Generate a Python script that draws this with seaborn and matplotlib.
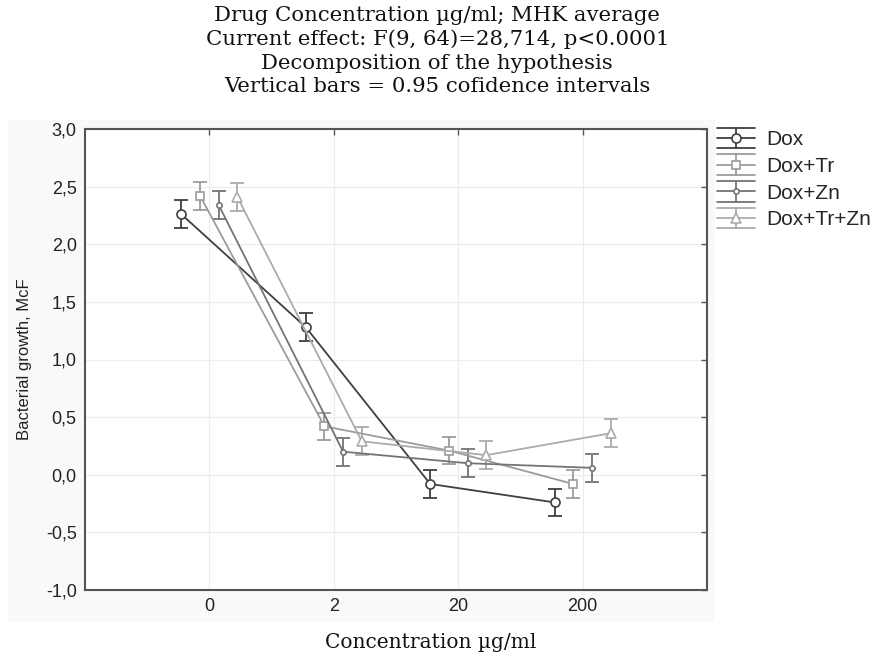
import numpy as np
import pandas as pd
import seaborn as sns
import matplotlib.pyplot as plt
from matplotlib.patches import Rectangle
from matplotlib.lines import Line2D
from matplotlib.legend_handler import HandlerBase

# data
concentrations = ['0', '2', '20', '200']
groups = ['Dox', 'Dox+Tr', 'Dox+Zn', 'Dox+Tr+Zn']
dox = [2.26, 1.28, -0.08, -0.24]
dox_tr = [2.42, 0.42, 0.21, -0.08]
dox_zn = [2.34, 0.20, 0.10, 0.06]
dox_tr_zn = [2.41, 0.29, 0.17, 0.36]
dox_ci = [0.12, 0.12, 0.12, 0.12]
dox_tr_ci = [0.12, 0.12, 0.12, 0.12]
dox_zn_ci = [0.12, 0.12, 0.12, 0.12]
dox_tr_zn_ci = [0.12, 0.12, 0.12, 0.12]
yticks = [-1.0, -0.5, 0.0, 0.5, 1.0, 1.5, 2.0, 2.5, 3.0]
ytick_labels = ['-1,0', '-0,5', '0,0', '0,5', '1,0', '1,5', '2,0', '2,5', '3,0']

title = ('Drug Concentration \u00b5g/ml; MHK average\n'
         'Current effect: F(9, 64)=28,714, p<0.0001\n'
         'Decomposition of the hypothesis\n'
         'Vertical bars = 0.95 cofidence intervals')


class StatisticaHandler(HandlerBase):
    # legend key: line with marker between two long caps, like the original software
    def create_artists(self, legend, orig_handle, xdescent, ydescent, width, height,
                       fontsize, trans):
        col = orig_handle.get_color()
        x0, x1 = -xdescent, width - xdescent
        xm = (x0 + x1) / 2
        y = height / 2 - ydescent
        d = height * 0.7
        arts = [
            Line2D([x0, x1], [y + d, y + d], color=col, lw=1.3),
            Line2D([x0, x1], [y - d, y - d], color=col, lw=1.3),
            Line2D([xm, xm], [y - d, y + d], color=col, lw=1.3),
            Line2D([x0, x1], [y, y], color=col, lw=1.3),
            Line2D([xm], [y], color=col, marker=orig_handle.get_marker(),
                   markersize=orig_handle.get_markersize(), markerfacecolor='white',
                   markeredgecolor=col, markeredgewidth=1.2),
        ]
        for a in arts:
            a.set_transform(trans)
        return arts


sns.set_style('white')
plt.rcParams['font.family'] = ['Liberation Sans', 'DejaVu Sans']

colors = ['#3f3f3f', '#9c9c9c', '#747474', '#ababab']
markers = ['o', 's', 'o', '^']
msizes = [6.5, 6.0, 3.8, 6.5]
offsets = [-0.225, -0.075, 0.075, 0.225]

fig = plt.figure(figsize=(8.8, 6.53), dpi=100)
fig.patches.append(Rectangle((8 / 880, 1 - 622 / 653), (715 - 8) / 880, (622 - 120) / 653,
                             transform=fig.transFigure, facecolor='#f9f9f9',
                             edgecolor='none', zorder=-1))
ax = fig.add_axes([85 / 880, 1 - 590 / 653, (707 - 85) / 880, (590 - 129) / 653])

series = [dox, dox_tr, dox_zn, dox_tr_zn]
cis = [dox_ci, dox_tr_ci, dox_zn_ci, dox_tr_zn_ci]
handles = []
for g, vals, ci, col, mk, ms, off in zip(groups, series, cis, colors, markers, msizes, offsets):
    df = pd.DataFrame({'pos': np.arange(len(concentrations)) + off, 'value': vals})
    sns.lineplot(data=df, x='pos', y='value', color=col, marker=mk, markersize=ms,
                 markerfacecolor='white', markeredgecolor=col, markeredgewidth=1.2,
                 linewidth=1.3, ax=ax, zorder=3)
    handles.append(ax.lines[-1])
    ax.errorbar(df['pos'], df['value'], yerr=ci, fmt='none', ecolor=col,
                elinewidth=1.3, capsize=4.7, capthick=1.3, zorder=2)

ax.set_xlim(-1, 4)
ax.set_ylim(-1, 3)
ax.set_xticks(range(len(concentrations)), concentrations)
ax.set_yticks(yticks, ytick_labels)
ax.grid(True, color='#ececec', linewidth=0.8)
ax.set_axisbelow(True)
ax.tick_params(direction='in', top=True, right=True, length=4, width=1,
               color='#555555', labelsize=13, labelcolor='#222222', pad=6)
for s in ax.spines.values():
    s.set_color('#555555')
    s.set_linewidth(1.5)
ax.set_xlabel('')
ax.set_ylabel('Bacterial growth, McF', fontsize=12, color='#222222', labelpad=10)

ax.legend(handles, groups, loc='upper left', bbox_to_anchor=(1.0, 1.02),
          frameon=False, fontsize=15, handlelength=1.8, handletextpad=0.55,
          labelspacing=0.37, borderaxespad=0.1,
          handler_map={h: StatisticaHandler() for h in handles})

fig.text(0.497, 1 - 6 / 653, title, ha='center', va='top', fontsize=15.3,
         family='DejaVu Serif', linespacing=1.3, color='#111111')
fig.text(0.489, 1 - 642 / 653, 'Concentration \u00b5g/ml', ha='center', va='center',
         fontsize=14.5, family='DejaVu Serif', color='#111111')

fig.savefig('out.png', dpi=100)
